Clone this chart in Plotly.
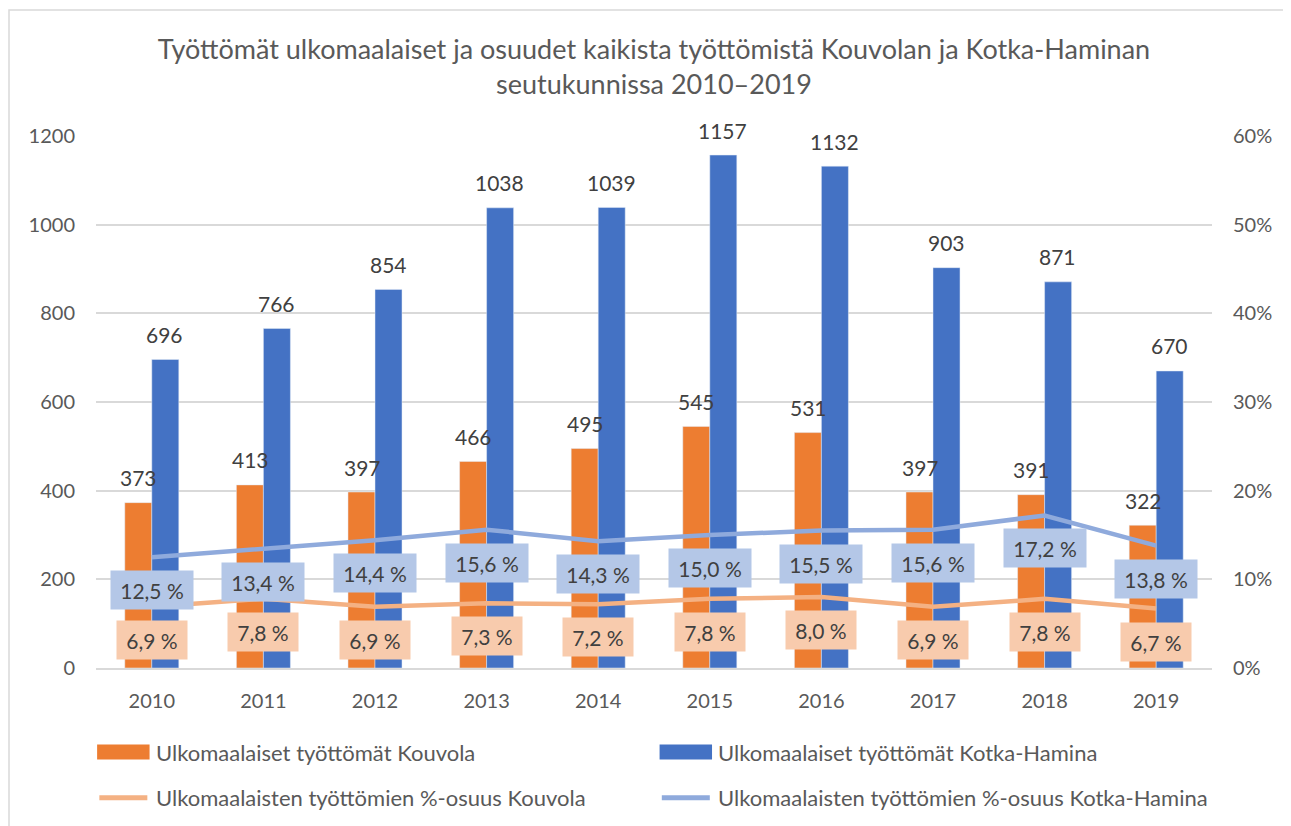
import plotly.graph_objects as go

years = ["2010", "2011", "2012", "2013", "2014", "2015", "2016", "2017", "2018", "2019"]
kouvola = [373, 413, 397, 466, 495, 545, 531, 397, 391, 322]
kotka = [696, 766, 854, 1038, 1039, 1157, 1132, 903, 871, 670]
pct_kouvola = [6.9, 7.8, 6.9, 7.3, 7.2, 7.8, 8.0, 6.9, 7.8, 6.7]
pct_kotka = [12.5, 13.4, 14.4, 15.6, 14.3, 15.0, 15.5, 15.6, 17.2, 13.8]

names = [
    "Ulkomaalaiset työttömät Kouvola",
    "Ulkomaalaiset työttömät Kotka-Hamina",
    "Ulkomaalaisten työttömien %-osuus Kouvola",
    "Ulkomaalaisten työttömien %-osuus Kotka-Hamina",
]
title_text = ("Työttömät ulkomaalaiset ja osuudet kaikista työttömistä Kouvolan ja Kotka-Haminan"
              "<br>seutukunnissa 2010–2019")

FONT = "Lato"
GREY = "#595959"
DARK = "#404040"
C_OR = "#ED7D31"
C_BL = "#4472C4"
C_OR_L = "#F4B183"
C_BL_L = "#8FAADC"
C_OR_BOX = "#F8CBAD"
C_BL_BOX = "#B4C7E7"

fig = go.Figure()
fig.add_trace(go.Bar(x=years, y=kouvola, name=names[0], marker_color=C_OR, showlegend=False))
fig.add_trace(go.Bar(x=years, y=kotka, name=names[1], marker_color=C_BL, showlegend=False))
fig.add_trace(go.Scatter(x=years, y=[p / 100 for p in pct_kouvola], name=names[2], yaxis="y2",
                         mode="lines", line=dict(color=C_OR_L, width=4.5), showlegend=False))
fig.add_trace(go.Scatter(x=years, y=[p / 100 for p in pct_kotka], name=names[3], yaxis="y2",
                         mode="lines", line=dict(color=C_BL_L, width=4.5), showlegend=False))

ann = []
for i, (a, b) in enumerate(zip(kouvola, kotka)):
    ann.append(dict(x=i, y=a, xref="x", yref="y", text=str(a), showarrow=False,
                    xshift=-13, yshift=25, yanchor="middle",
                    font=dict(family=FONT, size=21, color=DARK)))
    ann.append(dict(x=i, y=b, xref="x", yref="y", text=str(b), showarrow=False,
                    xshift=13, yshift=25, yanchor="middle",
                    font=dict(family=FONT, size=21, color=DARK)))

def fmt(v):
    return f"{v:.1f}".replace(".", ",") + " %"

for i, p in enumerate(pct_kotka):
    ann.append(dict(x=i, y=p / 100, xref="x", yref="y2", text=fmt(p), showarrow=False,
                    yshift=-33, yanchor="middle", bgcolor=C_BL_BOX, width=80, height=36,
                    borderpad=1, font=dict(family=FONT, size=21, color=DARK)))
for i, p in enumerate(pct_kouvola):
    ann.append(dict(x=i, y=p / 100, xref="x", yref="y2", text=fmt(p), showarrow=False,
                    yshift=-33, yanchor="middle", bgcolor=C_OR_BOX, width=68, height=36,
                    borderpad=1, font=dict(family=FONT, size=21, color=DARK)))

# manual legend
shapes = []
leg = [
    (0.001, -0.158, names[0], "bar", C_OR),
    (0.505, -0.158, names[1], "bar", C_BL),
    (0.001, -0.244, names[2], "line", C_OR_L),
    (0.505, -0.244, names[3], "line", C_BL_L),
]
for lx, ly, txt, kind, col in leg:
    if kind == "bar":
        shapes.append(dict(type="rect", xref="paper", yref="paper", x0=lx, x1=lx + 0.047,
                           y0=ly - 0.014, y1=ly + 0.014, fillcolor=col, line=dict(width=0)))
    else:
        shapes.append(dict(type="line", xref="paper", yref="paper", x0=lx + 0.002, x1=lx + 0.045,
                           y0=ly, y1=ly, line=dict(color=col, width=5)))
    ann.append(dict(x=lx + 0.051, y=ly, xref="paper", yref="paper", text=txt, showarrow=False,
                    xanchor="left", yanchor="middle",
                    font=dict(family=FONT, size=22, color=GREY)))

# chart border
shapes.append(dict(type="rect", xref="paper", yref="paper",
                   x0=-87 / 1116, x1=1.2, y0=-0.5, y1=1 + 126 / 532,
                   line=dict(color="#D9D9D9", width=1.5), fillcolor="rgba(0,0,0,0)", layer="below"))

fig.update_layout(
    width=1283, height=818,
    margin=dict(l=88, r=79, t=128, b=158, autoexpand=False),
    paper_bgcolor="white", plot_bgcolor="white",
    barmode="group", bargap=0.516, bargroupgap=0,
    title=dict(text=title_text, x=0.5, xref="paper", xanchor="center",
               y=1 - 51 / 818, yanchor="middle",
               font=dict(family=FONT, size=27, color=GREY)),
    font=dict(family=FONT, color=GREY),
    xaxis=dict(type="category", range=[-0.5, 9.5], showgrid=False, ticks="", showline=True,
               linecolor="#D9D9D9", linewidth=1.5,
               tickfont=dict(family=FONT, size=20, color=GREY), ticklabelstandoff=14),
    yaxis=dict(range=[0, 1200], dtick=200, showgrid=True, gridcolor="#D9D9D9", gridwidth=1.5,
               zeroline=False, showline=False, ticks="",
               tickfont=dict(family=FONT, size=20, color=GREY), ticklabelstandoff=20),
    yaxis2=dict(range=[0, 0.6], dtick=0.1, tickformat=".0%", overlaying="y", side="right",
                showgrid=False, zeroline=False, showline=False, ticks="",
                tickfont=dict(family=FONT, size=20, color=GREY), ticklabelstandoff=20),
    annotations=ann,
    shapes=shapes,
    showlegend=False,
)

fig.write_html("out.html")
